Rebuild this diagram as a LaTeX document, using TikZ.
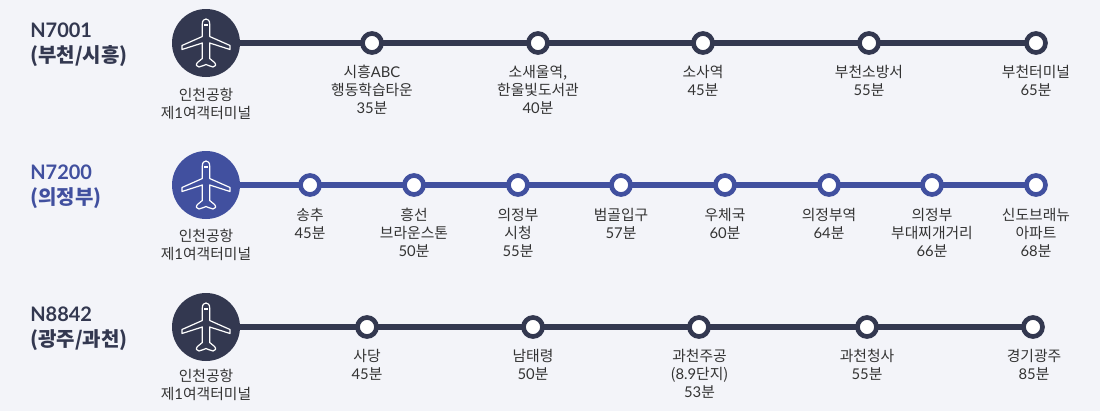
\documentclass[tikz,border=0pt]{standalone}
\usepackage{fontspec}
\setmainfont{Noto Sans CJK KR}
\newfontfamily\latf{Lato}
\newcommand{\lt}[1]{{\latf #1}}
\newcommand{\ltb}[1]{{\latf\bfseries #1}}
\definecolor{bgc}{HTML}{F3F4F9}
\definecolor{darkc}{HTML}{333850}
\definecolor{bluec}{HTML}{41509F}
\definecolor{txtc}{HTML}{333333}
\tikzset{
  hub/.style={circle,fill=#1,minimum size=68*0.75pt,inner sep=0pt,outer sep=0pt},
  stopdot/.style={circle,draw=#1,fill=white,line width=3.5pt,minimum size=19*0.75pt,inner sep=0pt,outer sep=0pt},
  route/.style={draw=#1,line width=4.4pt},
  lbl/.style={anchor=north,align=center,inner sep=0pt,text=txtc,font=\fontsize{11.1}{13.75}\selectfont},
  ttl/.style={anchor=north west,align=left,inner sep=0pt,font=\fontsize{15}{18.75}\selectfont\bfseries},
  planeline/.style={draw=white,line width=0.9pt,line join=round,fill=none},
  pics/plane/.style={code={
    \draw[planeline] (-3.7,-19) .. controls (-3.7,-22.5) and (-2,-24) .. (0,-24) .. controls (2,-24) and (3.7,-22.5) .. (3.7,-19)
      -- (3.7,-6.5) -- (24,2.5) -- (24,6.5) -- (3.7,0) -- (3.7,15.5) -- (8.5,19.5) .. controls (10.5,21.5) and (9.5,24) .. (7,24)
      .. controls (4,24) and (2,21.5) .. (0,21.5) .. controls (-2,21.5) and (-4,24) .. (-7,24) .. controls (-9.5,24) and (-10.5,21.5) .. (-8.5,19.5)
      -- (-3.7,15.5) -- (-3.7,0) -- (-24,6.5) -- (-24,2.5) -- (-3.7,-6.5) -- cycle;
    \fill[white] (-1.6,-19) rectangle (1.6,-16.8);
  }}
}
\begin{document}
\begin{tikzpicture}[x=0.75pt,y=-0.75pt]
\useasboundingbox[fill=bgc] (0,0) rectangle (1100,411);

% Row 1
\node[hub=darkc] (a0) at (206,43) {};
\pic at (a0.center) {plane};
\node[stopdot=darkc] (a1) at (372,43) {};
\node[stopdot=darkc] (a2) at (538,43) {};
\node[stopdot=darkc] (a3) at (703,43) {};
\node[stopdot=darkc] (a4) at (869,43) {};
\node[stopdot=darkc] (a5) at (1036,43) {};
\draw[route=darkc] (a0) -- (a1);
\draw[route=darkc] (a1) -- (a2);
\draw[route=darkc] (a2) -- (a3);
\draw[route=darkc] (a3) -- (a4);
\draw[route=darkc] (a4) -- (a5);
\node[ttl,text=darkc] (at) at (30,22.5) {\ltb{N7001}\\(부천/시흥)};
\node[lbl] (al0) at (206,87.5) {인천공항\\제\lt{1}여객터미널};
\node[lbl] (al1) at (372,64.5) {시흥\lt{ABC}\\행동학습타운\\\lt{35}분};
\node[lbl] (al2) at (538,64.5) {소새울역,\\한울빛도서관\\\lt{40}분};
\node[lbl] (al3) at (703,64.5) {소사역\\\lt{45}분};
\node[lbl] (al4) at (869,64.5) {부천소방서\\\lt{55}분};
\node[lbl] (al5) at (1036,64.5) {부천터미널\\\lt{65}분};

% Row 2
\node[hub=bluec] (b0) at (206,185) {};
\pic at (b0.center) {plane};
\foreach \n/\x in {1/310,2/414,3/518,4/621,5/725,6/829,7/932,8/1036}
  \node[stopdot=bluec] (b\n) at (\x,185) {};
\draw[route=bluec] (b0) -- (b1);
\draw[route=bluec] (b1) -- (b2);
\draw[route=bluec] (b2) -- (b3);
\draw[route=bluec] (b3) -- (b4);
\draw[route=bluec] (b4) -- (b5);
\draw[route=bluec] (b5) -- (b6);
\draw[route=bluec] (b6) -- (b7);
\draw[route=bluec] (b7) -- (b8);
\node[ttl,text=bluec] (bt) at (30,164.5) {\ltb{N7200}\\(의정부)};
\node[lbl] (bl0) at (206,228.5) {인천공항\\제\lt{1}여객터미널};
\node[lbl] (bl1) at (310,207.5) {송추\\\lt{45}분};
\node[lbl] (bl2) at (414,207.5) {흥선\\브라운스톤\\\lt{50}분};
\node[lbl] (bl3) at (518,207.5) {의정부\\시청\\\lt{55}분};
\node[lbl] (bl4) at (621,207.5) {범골입구\\\lt{57}분};
\node[lbl] (bl5) at (725,207.5) {우체국\\\lt{60}분};
\node[lbl] (bl6) at (829,207.5) {의정부역\\\lt{64}분};
\node[lbl] (bl7) at (932,207.5) {의정부\\부대찌개거리\\\lt{66}분};
\node[lbl] (bl8) at (1036,207.5) {신도브래뉴\\아파트\\\lt{68}분};

% Row 3
\node[hub=darkc] (c0) at (206,327) {};
\pic at (c0.center) {plane};
\node[stopdot=darkc] (c1) at (367,327) {};
\node[stopdot=darkc] (c2) at (533,327) {};
\node[stopdot=darkc] (c3) at (699,327) {};
\node[stopdot=darkc] (c4) at (867,327) {};
\node[stopdot=darkc] (c5) at (1033,327) {};
\draw[route=darkc] (c0) -- (c1);
\draw[route=darkc] (c1) -- (c2);
\draw[route=darkc] (c2) -- (c3);
\draw[route=darkc] (c3) -- (c4);
\draw[route=darkc] (c4) -- (c5);
\node[ttl,text=darkc] (ct) at (30,306.5) {\ltb{N8842}\\(광주/과천)};
\node[lbl] (cl0) at (206,368.5) {인천공항\\제\lt{1}여객터미널};
\node[lbl] (cl1) at (367,348.5) {사당\\\lt{45}분};
\node[lbl] (cl2) at (533,348.5) {남태령\\\lt{50}분};
\node[lbl] (cl3) at (699.5,348.5) {과천주공\\(\lt{8.9}단지)\\\lt{53}분};
\node[lbl] (cl4) at (867,348.5) {과천청사\\\lt{55}분};
\node[lbl] (cl5) at (1034,348.5) {경기광주\\\lt{85}분};
\end{tikzpicture}
\end{document}
